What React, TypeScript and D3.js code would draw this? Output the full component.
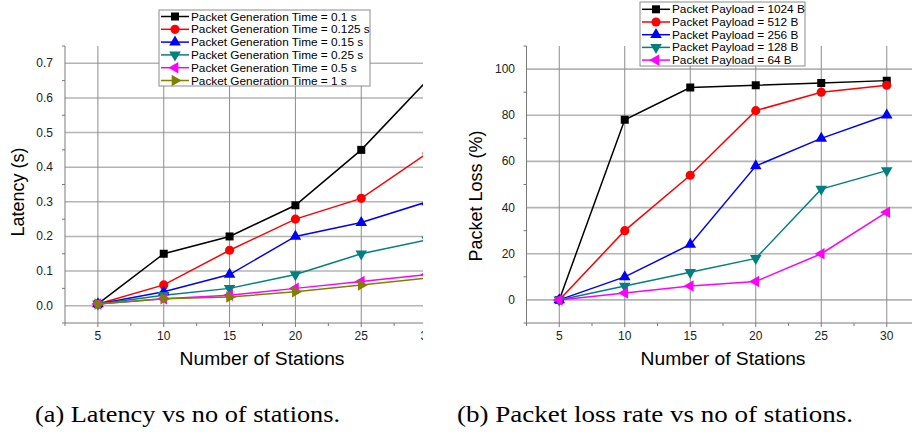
import React from "react";
import * as d3 from "d3";

// ---------- data ----------
const STATIONS = [5, 10, 15, 20, 25, 30];

const LATENCY_LABELS = [
  "Packet Generation Time = 0.1 s",
  "Packet Generation Time = 0.125 s",
  "Packet Generation Time = 0.15 s",
  "Packet Generation Time = 0.25 s",
  "Packet Generation Time = 0.5 s",
  "Packet Generation Time = 1 s",
];
const LAT_0_1 = [0.005, 0.15, 0.2, 0.29, 0.45, 0.65];
const LAT_0_125 = [0.005, 0.06, 0.16, 0.25, 0.31, 0.44];
const LAT_0_15 = [0.005, 0.04, 0.09, 0.2, 0.24, 0.3];
const LAT_0_25 = [0.005, 0.03, 0.05, 0.09, 0.15, 0.19];
const LAT_0_5 = [0.005, 0.02, 0.03, 0.05, 0.07, 0.09];
const LAT_1 = [0.005, 0.02, 0.025, 0.04, 0.06, 0.08];

const LOSS_LABELS = [
  "Packet Payload = 1024 B",
  "Packet Payload = 512 B",
  "Packet Payload = 256 B",
  "Packet Payload = 128 B",
  "Packet Payload = 64 B",
];
const LOSS_1024 = [0, 78, 92, 93, 94, 95];
const LOSS_512 = [0, 30, 54, 82, 90, 93];
const LOSS_256 = [0, 10, 24, 58, 70, 80];
const LOSS_128 = [0, 6, 12, 18, 48, 56];
const LOSS_64 = [0, 3, 6, 8, 20, 38];

const X_TICKS = [5, 10, 15, 20, 25, 30];
const X_MINOR = [2.5, 7.5, 12.5, 17.5, 22.5, 27.5, 32.5];
const LAT_TICKS = [0, 0.1, 0.2, 0.3, 0.4, 0.5, 0.6, 0.7];
const LAT_MINOR = [-0.05, 0.05, 0.15, 0.25, 0.35, 0.45, 0.55, 0.65, 0.75];
const LOSS_TICKS = [0, 20, 40, 60, 80, 100];
const LOSS_MINOR = [-10, 10, 30, 50, 70, 90, 110];

const CAPTION_A = "(a) Latency vs no of stations.";
const CAPTION_B = "(b) Packet loss rate vs no of stations.";

// ---------- styles ----------
const COLORS = ["#000000", "#ff0000", "#0000ff", "#008080", "#ff00ff", "#808000"];
type Shape = "square" | "circle" | "up" | "down" | "left" | "right";
const SHAPES: Shape[] = ["square", "circle", "up", "down", "left", "right"];
const FONT = "'Liberation Sans', Arial, sans-serif";

function markerPath(shape: Shape): { d: string; rot: number } {
  switch (shape) {
    case "square":
      return { d: d3.symbol(d3.symbolSquare, 64)() as string, rot: 0 };
    case "circle":
      return { d: d3.symbol(d3.symbolCircle, 66)() as string, rot: 0 };
    case "up":
      return { d: d3.symbol(d3.symbolTriangle, 58)() as string, rot: 0 };
    case "down":
      return { d: d3.symbol(d3.symbolTriangle, 58)() as string, rot: 180 };
    case "left":
      return { d: d3.symbol(d3.symbolTriangle, 58)() as string, rot: -90 };
    case "right":
      return { d: d3.symbol(d3.symbolTriangle, 58)() as string, rot: 90 };
  }
}

function Marker({ x, y, shape, color }: { x: number; y: number; shape: Shape; color: string }) {
  const m = markerPath(shape);
  return <path d={m.d} transform={`translate(${x},${y}) rotate(${m.rot})`} fill={color} />;
}

interface PanelProps {
  id: string;
  x0: number;
  x1: number;
  clipRight: number;
  yDomain: [number, number];
  yTicks: number[];
  yMinor: number[];
  yFmt: (v: number) => string;
  yLabel: string;
  yLabelX: number;
  yLabelY: number;
  tickLabelRight: number;
  series: number[][];
  labels: string[];
  legend: { x: number; y: number; w: number; h: number; row0: number; step: number };
  xLabelX: number;
}

const TOP = 46;
const BOTTOM = 323;

function Panel(p: PanelProps) {
  const x = d3.scaleLinear().domain([2.5, 32.5]).range([p.x0, p.x1]);
  const y = d3.scaleLinear().domain(p.yDomain).range([BOTTOM, TOP]);
  const left = p.x0;
  const right = p.clipRight;
  const line = d3
    .line<number>()
    .x((_, i) => x(STATIONS[i]))
    .y((d) => y(d));
  const lg = p.legend;
  return (
    <g fontFamily={FONT}>
      <defs>
        <clipPath id={p.id}>
          <rect x={left} y={TOP - 10} width={right - left} height={BOTTOM - TOP + 20} />
        </clipPath>
        <clipPath id={p.id + "all"}>
          <rect x={0} y={0} width={right} height={432} />
        </clipPath>
      </defs>
      <g clipPath={`url(#${p.id}all)`}>
        <g clipPath={`url(#${p.id})`}>
          {p.yTicks.map((t) => (
            <line key={"h" + t} x1={left} x2={right} y1={y(t)} y2={y(t)} stroke="#b4b4b4" strokeWidth={1.6} />
          ))}
          {X_TICKS.map((t) => (
            <line key={"v" + t} x1={x(t)} x2={x(t)} y1={TOP} y2={BOTTOM} stroke="#8c8c8c" strokeWidth={1} />
          ))}
        </g>
        <line x1={left} x2={left} y1={TOP} y2={BOTTOM} stroke="#7a7a7a" strokeWidth={1} />
        <line x1={left} x2={right} y1={BOTTOM} y2={BOTTOM} stroke="#7a7a7a" strokeWidth={1} />
        {p.yMinor.map((t) => (
          <line key={"ym" + t} x1={left - 3} x2={left} y1={y(t)} y2={y(t)} stroke="#7a7a7a" />
        ))}
        {X_MINOR.map((t) => (
          <line key={"xm" + t} x1={x(t)} x2={x(t)} y1={BOTTOM} y2={BOTTOM + 3} stroke="#7a7a7a" />
        ))}
        {X_TICKS.map((t) => (
          <line key={"xt" + t} x1={x(t)} x2={x(t)} y1={BOTTOM} y2={BOTTOM + 4} stroke="#7a7a7a" />
        ))}
        {p.yTicks.map((t) => (
          <text key={"yl" + t} x={p.tickLabelRight} y={y(t) + 4} textAnchor="end" fontSize={12} fill="#222">
            {p.yFmt(t)}
          </text>
        ))}
        {X_TICKS.map((t) => (
          <text key={"xl" + t} x={x(t)} y={340} textAnchor="middle" fontSize={12} fill="#222">
            {t}
          </text>
        ))}
        <text
          x={p.xLabelX}
          y={365}
          textAnchor="middle"
          fontSize={19}
          textLength={165}
          lengthAdjust="spacingAndGlyphs"
          fill="#000"
        >
          Number of Stations
        </text>
        <text
          transform={`translate(${p.yLabelX},${p.yLabelY}) rotate(-90)`}
          textAnchor="middle"
          fontSize={18}
          fill="#000"
        >
          {p.yLabel}
        </text>
        <g clipPath={`url(#${p.id})`}>
          {p.series.map((s, i) => (
            <path key={"s" + i} d={line(s) as string} fill="none" stroke={COLORS[i]} strokeWidth={1.5} />
          ))}
          {p.series.map((s, i) =>
            s.map((v, j) => (
              <Marker key={"m" + i + "-" + j} x={x(STATIONS[j])} y={y(v)} shape={SHAPES[i]} color={COLORS[i]} />
            ))
          )}
        </g>
        <rect x={lg.x} y={lg.y} width={lg.w} height={lg.h} fill="#fff" stroke="#8c8c8c" strokeWidth={1} />
        {p.labels.map((lab, i) => {
          const cy = lg.row0 + i * lg.step;
          return (
            <g key={"lg" + i}>
              <line x1={lg.x + 2} x2={lg.x + 30} y1={cy} y2={cy} stroke={COLORS[i]} strokeWidth={1.5} />
              <Marker x={lg.x + 16} y={cy} shape={SHAPES[i]} color={COLORS[i]} />
              <text x={lg.x + 32} y={cy + 4} fontSize={11.8} fill="#000">
                {lab}
              </text>
            </g>
          );
        })}
      </g>
    </g>
  );
}

export default function App() {
  return (
    <div style={{ position: "absolute", left: 0, top: 0 }}>
      <svg width={912} height={432} style={{ display: "block", background: "#fff" }}>
        <rect x={0} y={0} width={912} height={432} fill="#fff" />
        <Panel
          id="clipA"
          x0={65}
          x1={460}
          clipRight={423}
          yDomain={[-0.05, 0.75]}
          yTicks={LAT_TICKS}
          yMinor={LAT_MINOR}
          yFmt={(v) => v.toFixed(1)}
          yLabel="Latency (s)"
          yLabelX={24}
          yLabelY={192}
          tickLabelRight={53}
          series={[LAT_0_1, LAT_0_125, LAT_0_15, LAT_0_25, LAT_0_5, LAT_1]}
          labels={LATENCY_LABELS}
          legend={{ x: 159, y: 10, w: 211, h: 76, row0: 16.5, step: 12.8 }}
          xLabelX={262}
        />
        <Panel
          id="clipB"
          x0={526.5}
          x1={919.5}
          clipRight={912}
          yDomain={[-10, 110]}
          yTicks={LOSS_TICKS}
          yMinor={LOSS_MINOR}
          yFmt={(v) => String(v)}
          yLabel="Packet Loss (%)"
          yLabelX={482}
          yLabelY={196}
          tickLabelRight={515}
          series={[LOSS_1024, LOSS_512, LOSS_256, LOSS_128, LOSS_64]}
          labels={LOSS_LABELS}
          legend={{ x: 640, y: 2, w: 165, h: 64, row0: 9.3, step: 12.7 }}
          xLabelX={723}
        />
        <text
          x={35}
          y={422}
          fontFamily="'Liberation Serif', 'Times New Roman', serif"
          fontSize={23}
          textLength={305}
          lengthAdjust="spacingAndGlyphs"
          fill="#000"
        >
          {CAPTION_A}
        </text>
        <text
          x={457}
          y={422}
          fontFamily="'Liberation Serif', 'Times New Roman', serif"
          fontSize={23}
          textLength={396}
          lengthAdjust="spacingAndGlyphs"
          fill="#000"
        >
          {CAPTION_B}
        </text>
      </svg>
    </div>
  );
}
